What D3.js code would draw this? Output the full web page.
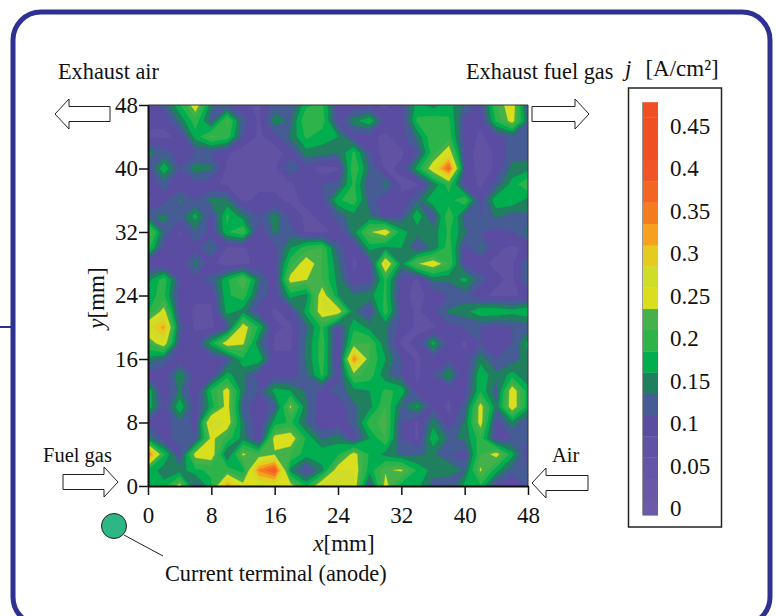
<!DOCTYPE html>
<html>
<head>
<meta charset="utf-8">
<script src="https://d3js.org/d3.v7.min.js"></script>
<style>
  html, body { margin: 0; padding: 0; background: #fff; }
  svg { display: block; }
  text { font-family: "Liberation Serif", serif; fill: #111; }
</style>
</head>
<body>
<script>
// axis ticks [mm]
const xTicks = [0, 8, 16, 24, 32, 40, 48];
const yTicks = [0, 8, 16, 24, 32, 40, 48];
const legendTicks = [0, 0.05, 0.1, 0.15, 0.2, 0.25, 0.3, 0.35, 0.4, 0.45];

// lower edge of each colour band [A/cm2]
const levels = [-0.018, 0, 0.025, 0.05, 0.075, 0.1, 0.125, 0.15, 0.175, 0.2, 0.225, 0.25, 0.275, 0.3, 0.325, 0.35, 0.375, 0.4, 0.425, 0.45];
const legendTop = 0.468;
const bandColors = ['#6b5aa8', '#6a58a7', '#6555a6', '#6152a4', '#5a4da1', '#465c94', '#1f7f5e', '#00ae4f', '#2cb34a', '#45b14a',
  '#d9df1c', '#cfdc28', '#e6cb1f', '#f5a01f', '#f47b20', '#f26522', '#ef5527', '#f04e23', '#f04e23', '#f04e23'];

// current density, 2 mm grid, top row is y = 48
const currentDensity = [
  [.09,.11,.17,.25,.13,.10,.08,.07,.11,.10,.17,.18,.09,.08,.08,.07,.09,.16,.14,.16,.12,.09,.20,.25,.10],
  [.08,.08,.13,.19,.11,.21,.11,.07,.14,.12,.20,.19,.09,.14,.17,.09,.08,.18,.19,.18,.09,.08,.18,.24,.12],
  [.07,.07,.08,.16,.21,.19,.10,.07,.09,.13,.18,.16,.15,.09,.08,.07,.09,.13,.20,.19,.09,.07,.09,.11,.10],
  [.14,.11,.09,.10,.10,.08,.06,.07,.06,.09,.14,.14,.125,.18,.10,.06,.07,.10,.19,.25,.09,.06,.08,.11,.11],
  [.09,.17,.10,.14,.13,.07,.06,.07,.07,.12,.09,.06,.07,.20,.12,.07,.08,.16,.25,.36,.10,.06,.08,.135,.14],
  [.08,.11,.08,.09,.08,.07,.06,.07,.07,.07,.09,.10,.11,.18,.10,.135,.07,.07,.13,.19,.09,.07,.11,.16,.20],
  [.07,.09,.13,.10,.135,.13,.07,.08,.08,.07,.08,.09,.17,.19,.11,.08,.08,.12,.17,.16,.20,.09,.17,.17,.14],
  [.12,.13,.11,.16,.09,.18,.135,.10,.14,.09,.07,.08,.11,.14,.13,.09,.10,.17,.10,.20,.11,.10,.13,.11,.12],
  [.23,.12,.07,.12,.09,.17,.20,.08,.13,.11,.07,.07,.08,.14,.22,.25,.16,.135,.135,.18,.13,.10,.09,.10,.13],
  [.19,.09,.08,.09,.13,.07,.07,.09,.09,.15,.19,.20,.11,.08,.16,.14,.15,.10,.13,.19,.09,.13,.08,.07,.08],
  [.08,.08,.08,.135,.08,.06,.07,.08,.09,.19,.25,.20,.13,.07,.09,.27,.14,.22,.25,.20,.09,.08,.07,.07,.12],
  [.14,.19,.10,.09,.11,.17,.22,.13,.08,.24,.226,.20,.14,.08,.09,.18,.09,.07,.13,.13,.16,.11,.08,.07,.12],
  [.17,.18,.09,.08,.08,.17,.19,.11,.09,.16,.14,.25,.15,.13,.14,.18,.08,.07,.08,.10,.11,.08,.07,.07,.08],
  [.17,.24,.09,.07,.07,.16,.14,.09,.07,.09,.16,.25,.25,.13,.09,.19,.09,.07,.09,.13,.14,.17,.17,.16,.17],
  [.26,.31,.11,.07,.07,.10,.25,.17,.08,.07,.12,.18,.09,.17,.14,.13,.09,.07,.07,.09,.10,.10,.09,.10,.11],
  [.20,.25,.10,.09,.16,.25,.23,.13,.07,.07,.13,.19,.08,.20,.20,.13,.07,.08,.16,.09,.07,.10,.08,.10,.16],
  [.14,.12,.08,.08,.09,.10,.17,.17,.08,.08,.13,.19,.07,.33,.20,.15,.10,.07,.09,.09,.08,.14,.10,.11,.14],
  [.09,.08,.15,.08,.09,.16,.13,.09,.09,.08,.12,.18,.09,.21,.19,.13,.10,.07,.10,.15,.08,.17,.13,.16,.13],
  [.17,.08,.13,.08,.18,.24,.13,.10,.16,.15,.12,.09,.11,.14,.15,.18,.17,.08,.09,.08,.09,.17,.11,.25,.16],
  [.17,.09,.17,.09,.16,.24,.11,.08,.11,.23,.13,.08,.08,.12,.14,.20,.12,.155,.09,.07,.11,.24,.13,.25,.16],
  [.10,.08,.12,.09,.28,.25,.13,.08,.16,.18,.12,.08,.08,.11,.19,.21,.10,.07,.14,.08,.13,.24,.09,.14,.10],
  [.14,.09,.11,.10,.235,.19,.14,.08,.24,.25,.17,.12,.14,.09,.15,.20,.10,.07,.17,.12,.13,.19,.09,.10,.10],
  [.35,.18,.09,.24,.25,.12,.23,.20,.22,.20,.16,.17,.17,.24,.17,.14,.12,.12,.13,.10,.09,.20,.24,.16,.08],
  [.17,.135,.135,.17,.18,.19,.16,.33,.38,.14,.09,.14,.25,.25,.16,.22,.23,.17,.14,.15,.12,.23,.16,.11,.10],
  [.16,.16,.24,.10,.17,.32,.24,.24,.24,.24,.17,.27,.27,.25,.10,.24,.16,.16,.11,.09,.16,.17,.09,.08,.10]
];

const svg = d3.select('body').append('svg')
  .attr('width', 776)
  .attr('height', 616);

// rounded panel frame, runs off the bottom of the page
svg.append('rect')
  .attr('x', 13).attr('y', 12)
  .attr('width', 757).attr('height', 613)
  .attr('rx', 28).attr('ry', 28)
  .attr('fill', 'none')
  .attr('stroke', '#2e3192')
  .attr('stroke-width', 5);
svg.append('line')
  .attr('x1', 0).attr('x2', 13)
  .attr('y1', 327).attr('y2', 327)
  .attr('stroke', '#2e3192')
  .attr('stroke-width', 2);

const x = d3.scaleLinear().domain([0, 48]).range([148, 528]);
const y = d3.scaleLinear().domain([0, 48]).range([486, 105]);

// contour map
svg.append('clipPath').attr('id', 'plot-clip')
  .append('rect')
  .attr('x', x(0)).attr('y', y(48))
  .attr('width', x(48) - x(0)).attr('height', y(0) - y(48));

const nRows = currentDensity.length;
const nCols = currentDensity[0].length;
const contours = d3.contours()
  .size([nCols, nRows])
  .thresholds(levels)(currentDensity.flat());

// d3.contours puts cell centres on half integers
const gridToPlot = d3.geoTransform({
  point: function(cx, cy) {
    this.stream.point(x((cx - 0.5) * 2), y(48 - (cy - 0.5) * 2));
  }
});
const contourPath = d3.geoPath(gridToPlot);

svg.append('g')
  .attr('clip-path', 'url(#plot-clip)')
  .selectAll('path')
  .data(contours)
  .join('path')
  .attr('d', contourPath)
  .attr('fill', (d, i) => bandColors[i])
  .attr('stroke', (d, i) => bandColors[i])
  .attr('stroke-width', 0.3);

// top and right edge of the plot
svg.append('path')
  .attr('d', `M${x(0)},${y(48)}H${x(48)}V${y(0)}`)
  .attr('fill', 'none')
  .attr('stroke', '#333')
  .attr('stroke-width', 1);

// axes
const xAxis = svg.append('g')
  .attr('transform', `translate(0,${y(0)})`)
  .call(d3.axisBottom(x).tickValues(xTicks).tickSize(9).tickPadding(12).tickSizeOuter(0));
const yAxis = svg.append('g')
  .attr('transform', `translate(${x(0)},0)`)
  .call(d3.axisLeft(y).tickValues(yTicks).tickSize(9).tickPadding(1).tickSizeOuter(0));
[xAxis, yAxis].forEach(ax => {
  ax.selectAll('path').attr('stroke', '#111').attr('stroke-width', 2);
  ax.selectAll('line').attr('stroke', '#111').attr('stroke-width', 1.5);
  ax.selectAll('text').style('font-family', '"Liberation Serif", serif').style('font-size', '23px').attr('fill', '#111');
});

function label(px, py, str, size) {
  return svg.append('text')
    .attr('x', px).attr('y', py)
    .attr('font-size', size || 22.3)
    .text(str);
}

// axis titles
const xTitle = svg.append('text')
  .attr('x', 344).attr('y', 551)
  .attr('text-anchor', 'middle')
  .attr('font-size', 23);
xTitle.append('tspan').attr('font-style', 'italic').text('x');
xTitle.append('tspan').text('[mm]');

const yTitle = svg.append('text')
  .attr('transform', 'translate(104,298) rotate(-90)')
  .attr('text-anchor', 'middle')
  .attr('font-size', 23);
yTitle.append('tspan').attr('font-style', 'italic').text('y');
yTitle.append('tspan').text('[mm]');

label(58, 79, 'Exhaust air');
label(466, 79, 'Exhaust fuel gas');
label(43, 462, 'Fuel gas', 20.5);
label(552, 462, 'Air', 20.5);
label(165, 581, 'Current terminal (anode)');

// flow arrows: tail, tip, centre line
function flowArrow(tail, tip, cy) {
  const dir = tip > tail ? 1 : -1;
  const back = tip - dir * 14;
  svg.append('path')
    .attr('d', `M${tail},${cy - 7.5}H${back}V${cy - 15}L${tip},${cy}L${back},${cy + 15}V${cy + 7.5}H${tail}Z`)
    .attr('fill', '#fff')
    .attr('stroke', '#222')
    .attr('stroke-width', 1);
}
flowArrow(110, 55, 114);
flowArrow(532, 589, 114);
flowArrow(63, 118, 482);
flowArrow(588, 532, 483);

// current terminal marker
svg.append('line')
  .attr('x1', 124).attr('y1', 535)
  .attr('x2', 163).attr('y2', 556)
  .attr('stroke', '#222')
  .attr('stroke-width', 1);
svg.append('circle')
  .attr('cx', 114).attr('cy', 526).attr('r', 12.5)
  .attr('fill', '#2db784')
  .attr('stroke', '#222')
  .attr('stroke-width', 1);

// colour legend
svg.append('rect')
  .attr('x', 628.5).attr('y', 88)
  .attr('width', 93).attr('height', 439)
  .attr('fill', '#fff')
  .attr('stroke', '#222')
  .attr('stroke-width', 1.5);

const legendY = d3.scaleLinear().domain([0, 0.45]).range([500, 117.5]);
const legendBands = levels.map((lo, i) => ({lo: lo, hi: i + 1 < levels.length ? levels[i + 1] : legendTop}));

svg.append('g')
  .selectAll('rect')
  .data(legendBands)
  .join('rect')
  .attr('x', 643)
  .attr('width', 15)
  .attr('y', d => legendY(d.hi))
  .attr('height', d => legendY(d.lo) - legendY(d.hi) + 0.3)
  .attr('fill', (d, i) => bandColors[i]);

svg.append('line')
  .attr('x1', 642.5).attr('x2', 642.5)
  .attr('y1', legendY(legendTop)).attr('y2', legendY(levels[0]))
  .attr('stroke', '#999')
  .attr('stroke-width', 1);

svg.append('g')
  .selectAll('text')
  .data(legendTicks)
  .join('text')
  .attr('x', 670)
  .attr('y', d => legendY(d) + 16)
  .attr('font-size', 23)
  .text(d => d);

const legendTitle = svg.append('text')
  .attr('x', 625).attr('y', 76)
  .attr('font-size', 23);
legendTitle.append('tspan').attr('font-style', 'italic').text('j');
legendTitle.append('tspan').attr('dx', 14).text('[A/cm²]');
</script>
</body>
</html>
